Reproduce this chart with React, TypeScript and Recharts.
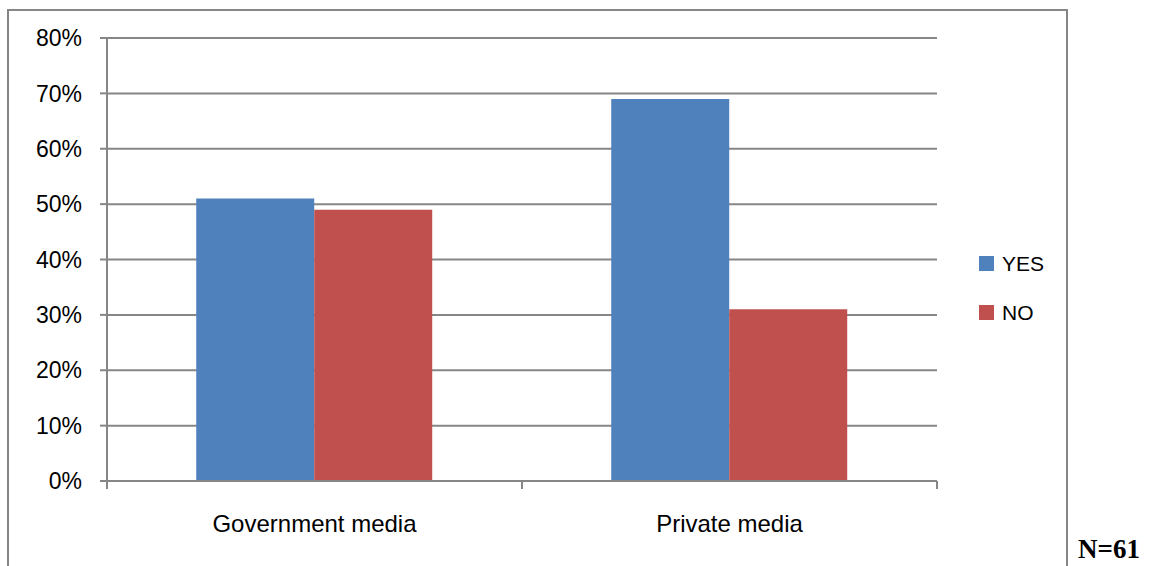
import React from 'react';
import { BarChart, Bar, XAxis, YAxis, CartesianGrid } from 'recharts';

const categories = ['Government media', 'Private media'];
const yesValues = [0.51, 0.69];
const noValues = [0.49, 0.31];
const seriesNames = ['YES', 'NO'];
const yTicks = [0, 0.1, 0.2, 0.3, 0.4, 0.5, 0.6, 0.7, 0.8];
const sampleNote = 'N=61';

const data = categories.map((name, i) => ({ name, yes: yesValues[i], no: noValues[i] }));

const COLORS = ['#4F81BD', '#C0504D'];
const GRAY = '#868686';
const FONT = '"Liberation Sans", Arial, sans-serif';

const W = 1150;
const H = 566;
const PLOT_LEFT = 107;
const PLOT_RIGHT = 937;
const PLOT_TOP = 38;
const PLOT_BOTTOM = 481;
const X_AXIS_H = 40;

const CategoryTick = (props: any) => {
  const { x, y, payload, index } = props;
  const half = payload?.offset || (PLOT_RIGHT - PLOT_LEFT) / categories.length / 2;
  return (
    <g>
      <line x1={x - half} x2={x - half} y1={y} y2={y + 8} stroke={GRAY} strokeWidth={2} />
      {index === categories.length - 1 && (
        <line x1={x + half} x2={x + half} y1={y} y2={y + 8} stroke={GRAY} strokeWidth={2} />
      )}
      <text x={x} y={y + 51} textAnchor="middle" fill="#000" fontSize={24} fontFamily={FONT}>
        {payload.value}
      </text>
    </g>
  );
};

export default function App() {
  return (
    <div style={{ position: 'absolute', left: 0, top: 0, width: W, height: H, overflow: 'hidden', background: '#fff' }}>
      {/* outer frame, open at the bottom */}
      <div
        style={{
          position: 'absolute',
          left: 7,
          top: 9,
          width: 1057,
          height: 600,
          border: `2px solid ${GRAY}`,
          borderBottom: 'none',
        }}
      />
      <div style={{ position: 'absolute', left: 0, top: 0 }}>
        <BarChart
          width={W}
          height={H}
          data={data}
          margin={{ top: PLOT_TOP, right: W - PLOT_RIGHT, bottom: H - PLOT_BOTTOM - X_AXIS_H, left: 0 }}
          barCategoryGap="21.5%"
          barGap={0}
        >
          <CartesianGrid vertical={false} stroke={GRAY} strokeWidth={2} />
          <YAxis
            width={PLOT_LEFT}
            domain={[0, 0.8]}
            ticks={yTicks}
            interval={0}
            tickFormatter={(v: number) => `${Math.round(v * 100)}%`}
            tick={{ fill: '#000', fontSize: 23, fontFamily: FONT }}
            tickSize={7}
            tickMargin={18}
            tickLine={{ stroke: GRAY, strokeWidth: 2 }}
            axisLine={{ stroke: GRAY, strokeWidth: 2 }}
          />
          <XAxis
            dataKey="name"
            height={X_AXIS_H}
            tickLine={false}
            tickSize={0}
            tickMargin={0}
            interval={0}
            axisLine={{ stroke: GRAY, strokeWidth: 2 }}
            tick={<CategoryTick />}
          />
          <Bar dataKey="yes" name={seriesNames[0]} fill={COLORS[0]} isAnimationActive={false} />
          <Bar dataKey="no" name={seriesNames[1]} fill={COLORS[1]} isAnimationActive={false} />
        </BarChart>
      </div>
      {/* legend */}
      {seriesNames.map((s, i) => (
        <div
          key={s}
          style={{
            position: 'absolute',
            left: 979,
            top: 250 + i * 49,
            height: 27,
            display: 'flex',
            alignItems: 'center',
            fontFamily: FONT,
            fontSize: 21,
            color: '#000',
          }}
        >
          <span style={{ display: 'inline-block', width: 15, height: 15, background: COLORS[i], marginRight: 8 }} />
          <span>{s}</span>
        </div>
      ))}
      <div
        style={{
          position: 'absolute',
          left: 1078,
          top: 536,
          fontFamily: '"Liberation Serif", "Times New Roman", serif',
          fontWeight: 'bold',
          fontSize: 27,
          lineHeight: '27px',
          color: '#000',
          whiteSpace: 'nowrap',
        }}
      >
        {sampleNote}
      </div>
    </div>
  );
}
